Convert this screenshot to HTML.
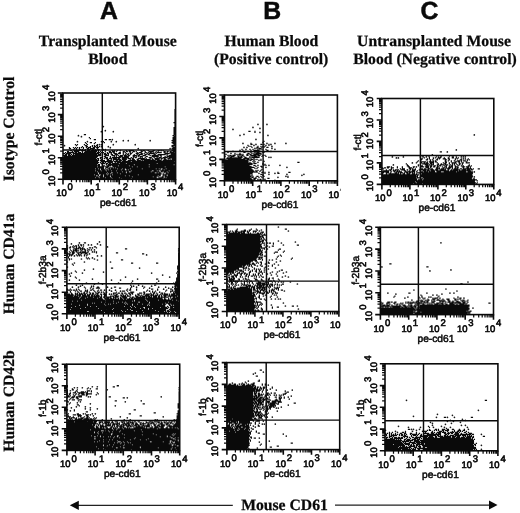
<!DOCTYPE html>
<html lang="en"><head><meta charset="utf-8"><title>Figure</title>
<style>
html,body{margin:0;padding:0;background:#fff}
svg{display:block}
text{fill:#0a0a0a;text-rendering:geometricPrecision}
.hd{font:bold 24.8px "Liberation Sans",Arial,Helvetica,sans-serif;text-anchor:middle;stroke:#0a0a0a;stroke-width:.5}
.ct{font:bold 15.7px "Liberation Serif","Times New Roman",Times,serif;text-anchor:middle;stroke:#0a0a0a;stroke-width:.25}
.ax{font:10.2px "Liberation Sans",Arial,Helvetica,sans-serif;stroke:#0a0a0a;stroke-width:.5}
.tk{font:9.45px "Liberation Sans",Arial,Helvetica,sans-serif;stroke:#0a0a0a;stroke-width:.62}
.sp{font-size:9.5px}
.fr{fill:none;stroke:#0a0a0a;stroke-width:1.6}
.q{fill:none;stroke:#0a0a0a;stroke-width:1.45}
.tM{fill:none;stroke:#0a0a0a;stroke-width:1.6}
.tm{fill:none;stroke:#0a0a0a;stroke-width:1.25}
.d{fill:none;stroke:#0a0a0a;stroke-width:1.25;stroke-linecap:square}
.d2{fill:none;stroke:#1a1a1a;stroke-width:1.7;stroke-linecap:round}
.ar{fill:none;stroke:#222;stroke-width:1.1}
</style></head><body>
<svg width="520" height="513" viewBox="0 0 520 513">
<rect width="520" height="513" fill="#fff"/>
<text class="hd" x="109" y="18.5">A</text>
<text class="hd" x="272.2" y="18.5">B</text>
<text class="hd" x="429.4" y="18.5">C</text>
<text class="ct" x="107.8" y="45.8">Transplanted Mouse</text>
<text class="ct" x="107.8" y="64.4">Blood</text>
<text class="ct" x="271.4" y="45.8">Human Blood</text>
<text class="ct" x="271.2" y="64.4">(Positive control)</text>
<text class="ct" x="434" y="45.8">Untransplanted Mouse</text>
<text class="ct" x="435" y="64.4">Blood (Negative control)</text>
<text class="ct" transform="translate(14.3 129) rotate(-90)">Isotype Control</text>
<text class="ct" transform="translate(14.3 264) rotate(-90)">Human CD41a</text>
<text class="ct" transform="translate(14.3 401) rotate(-90)">Human CD42b</text>
<g id="pA1">
<g transform="translate(63 93) scale(0.9965 1.0035) translate(0.5 0.5)"><path class="d" d="M0 85h48M50 85h7M59 85h8M69 85h30M101 85h11M0 84h31M33 84h2M37 84h4M43 84h4M49 84h6M57 84h36M96 84h4M102 84h0M104 84h8M0 83h34M36 83h3M41 83h5M48 83h20M70 83h19M91 83h2M95 83h0M99 83h1M102 83h10M0 82h32M35 82h0M37 82h2M41 82h5M48 82h13M63 82h2M67 82h27M96 82h1M100 82h0M102 82h1M105 82h7M0 81h30M32 81h3M38 81h1M41 81h2M45 81h3M50 81h24M76 81h21M100 81h3M105 81h7M0 80h34M36 80h6M44 80h0M46 80h0M48 80h8M58 80h40M100 80h0M103 80h9M0 79h34M36 79h7M45 79h2M50 79h3M55 79h7M64 79h27M94 79h0M96 79h1M101 79h0M103 79h1M106 79h6M0 78h33M35 78h23M60 78h2M64 78h1M68 78h19M89 78h7M98 78h1M101 78h2M105 78h7M0 77h31M33 77h4M40 77h2M44 77h3M49 77h3M54 77h13M69 77h19M91 77h2M95 77h0M98 77h7M107 77h5M0 76h36M38 76h3M43 76h1M46 76h11M59 76h2M64 76h0M66 76h31M99 76h1M102 76h10M0 75h31M33 75h1M36 75h0M38 75h2M42 75h0M45 75h1M48 75h5M55 75h3M60 75h1M63 75h3M68 75h10M80 75h12M94 75h1M97 75h0M100 75h2M104 75h8M0 74h40M43 74h1M46 74h3M51 74h0M53 74h59M0 73h33M35 73h5M42 73h3M50 73h18M70 73h3M75 73h10M87 73h14M103 73h9M0 72h36M40 72h1M44 72h3M49 72h5M56 72h9M67 72h45M0 71h33M35 71h1M43 71h0M45 71h25M72 71h13M87 71h23M112 71h0M0 70h34M38 70h3M43 70h1M46 70h1M49 70h6M57 70h5M64 70h29M95 70h17M0 69h35M37 69h0M40 69h0M42 69h0M45 69h4M52 69h0M54 69h58M0 68h34M38 68h11M51 68h6M59 68h8M69 68h42M0 67h35M37 67h4M44 67h4M50 67h0M53 67h1M56 67h2M60 67h2M65 67h7M74 67h3M79 67h0M81 67h11M94 67h4M100 67h12M0 66h33M35 66h0M38 66h0M44 66h1M48 66h0M50 66h7M59 66h4M67 66h0M69 66h2M74 66h1M78 66h9M89 66h1M92 66h4M98 66h0M101 66h2M105 66h0M107 66h0M109 66h3M0 65h32M34 65h1M37 65h0M39 65h0M41 65h0M43 65h1M46 65h2M50 65h3M55 65h1M59 65h4M65 65h2M69 65h1M75 65h6M83 65h0M87 65h0M89 65h0M92 65h4M98 65h1M101 65h1M105 65h2M109 65h3M0 64h33M37 64h1M42 64h2M47 64h0M49 64h8M59 64h6M68 64h0M70 64h0M72 64h1M77 64h0M79 64h0M82 64h0M86 64h2M91 64h0M94 64h0M96 64h2M100 64h4M106 64h6M1 63h33M41 63h1M47 63h0M51 63h0M53 63h0M56 63h3M61 63h4M70 63h1M73 63h0M75 63h0M77 63h2M83 63h1M89 63h6M98 63h0M102 63h0M104 63h8M0 62h3M5 62h2M9 62h28M39 62h0M42 62h3M49 62h2M53 62h0M55 62h0M57 62h2M61 62h2M65 62h1M70 62h3M75 62h1M80 62h2M87 62h0M89 62h6M97 62h1M104 62h0M106 62h6M2 61h1M5 61h1M8 61h0M10 61h0M12 61h21M35 61h2M39 61h0M41 61h2M45 61h0M48 61h1M52 61h2M60 61h0M62 61h0M64 61h1M67 61h0M71 61h0M74 61h0M76 61h3M82 61h1M85 61h1M91 61h1M95 61h7M104 61h0M108 61h4M0 60h1M3 60h4M10 60h25M37 60h0M41 60h1M44 60h1M48 60h0M51 60h2M55 60h2M60 60h0M63 60h0M65 60h0M67 60h1M73 60h2M78 60h1M81 60h0M84 60h0M86 60h5M93 60h0M102 60h4M108 60h4M2 59h0M4 59h6M12 59h1M15 59h2M19 59h0M21 59h11M34 59h2M38 59h0M40 59h0M44 59h0M46 59h2M50 59h1M56 59h1M60 59h0M62 59h0M67 59h0M69 59h0M74 59h0M76 59h2M82 59h1M85 59h0M87 59h1M90 59h0M92 59h0M94 59h4M101 59h1M104 59h0M107 59h4M4 58h1M9 58h0M11 58h4M19 58h0M22 58h11M35 58h0M37 58h0M46 58h1M49 58h2M53 58h0M60 58h1M63 58h1M66 58h1M70 58h1M73 58h0M78 58h1M82 58h0M86 58h4M93 58h0M95 58h0M101 58h1M104 58h1M107 58h1M110 58h2M7 57h1M11 57h5M18 57h4M24 57h2M28 57h5M35 57h0M49 57h0M51 57h0M54 57h0M63 57h0M66 57h4M78 57h0M80 57h1M85 57h0M90 57h1M95 57h1M100 57h0M109 57h3M10 56h0M13 56h0M16 56h1M19 56h0M22 56h0M24 56h3M29 56h1M32 56h0M34 56h2M110 56h2M6 55h1M11 55h0M13 55h0M16 55h0M20 55h0M24 55h1M27 55h4M34 55h0M109 55h3M6 54h0M10 54h0M12 54h0M14 54h0M16 54h0M18 54h0M20 54h0M23 54h0M25 54h2M30 54h1M33 54h2M110 54h2M19 53h0M23 53h1M27 53h0M29 53h0M31 53h1M34 53h0M36 53h0M109 53h1M112 53h0M13 52h0M22 52h1M29 52h0M31 52h0M33 52h1M109 52h3M12 51h0M14 51h0M21 51h0M24 51h0M34 51h0M111 51h1M23 50h0M31 50h0M110 50h2M22 49h0M27 49h1M32 49h0M39 49h0M41 49h0M109 49h3M38 48h0M40 48h0M110 48h2M109 47h3M31 46h1M42 46h1M46 46h1M110 46h2M27 45h0M110 45h2M26 44h0M110 44h2M111 43h1M110 42h1M21 41h1M111 41h1M111 40h1M111 39h1M111 38h1M111 37h1M111 36h1M111 35h1M111 34h1M112 33h0M112 32h0M112 31h0M112 30h0M111 29h1M112 28h0M112 27h0M112 26h0M112 25h0M112 24h0M112 23h0M112 22h0M112 21h0M112 20h0M112 19h0M112 18h0M112 17h0M112 16h0"/><path class="d2" d="M42 58h0M57 57h0M98 57h0M40 56h0M42 56h0M75 55h0M107 55h0M47 54h0M38 53h0M45 53h0M1 52h0M36 51h0M38 51h0M50 51h0M72 51h0M14 48h0M24 48h0M48 48h0M53 48h0M60 47h0M65 47h0M87 47h0M49 46h0M18 43h0M15 42h0M38 38h0M50 38h0M42 37h0M40 33h0"/></g>
<rect class="fr" x="63" y="93" width="112.6" height="86.3"/>
<path class="q" d="M102.3 93V179.3M63 150H175.6"/>
<path class="tM" d="M63 179.3v5.2M63 179.3h-5.2M91.2 179.3v5.2M63 157.7h-5.2M119.3 179.3v5.2M63 136.2h-5.2M147.4 179.3v5.2M63 114.6h-5.2M175.6 179.3v5.2M63 93h-5.2"/><path class="tm" d="M71.5 179.3v2.9M63 172.8h-2.9M76.4 179.3v2.9M63 169h-2.9M79.9 179.3v2.9M63 166.3h-2.9M82.7 179.3v2.9M63 164.2h-2.9M84.9 179.3v2.9M63 162.5h-2.9M86.8 179.3v2.9M63 161.1h-2.9M88.4 179.3v2.9M63 159.8h-2.9M89.9 179.3v2.9M63 158.7h-2.9M99.6 179.3v2.9M63 151.2h-2.9M104.6 179.3v2.9M63 147.4h-2.9M108.1 179.3v2.9M63 144.7h-2.9M110.8 179.3v2.9M63 142.6h-2.9M113.1 179.3v2.9M63 140.9h-2.9M114.9 179.3v2.9M63 139.5h-2.9M116.6 179.3v2.9M63 138.2h-2.9M118 179.3v2.9M63 137.1h-2.9M127.8 179.3v2.9M63 129.7h-2.9M132.7 179.3v2.9M63 125.9h-2.9M136.2 179.3v2.9M63 123.2h-2.9M139 179.3v2.9M63 121.1h-2.9M141.2 179.3v2.9M63 119.4h-2.9M143.1 179.3v2.9M63 117.9h-2.9M144.7 179.3v2.9M63 116.7h-2.9M146.2 179.3v2.9M63 115.6h-2.9M155.9 179.3v2.9M63 108.1h-2.9M160.9 179.3v2.9M63 104.3h-2.9M164.4 179.3v2.9M63 101.6h-2.9M167.1 179.3v2.9M63 99.5h-2.9M169.4 179.3v2.9M63 97.8h-2.9M171.2 179.3v2.9M63 96.3h-2.9M172.9 179.3v2.9M63 95.1h-2.9M174.3 179.3v2.9M63 94h-2.9"/>
<text class="tk" x="56.2" y="196.2">10<tspan class="sp" dx="0.8" dy="-5.8">0</tspan></text>
<text class="tk" transform="translate(54.5 179.3) rotate(-90)" x="-6.9" y="0">10<tspan class="sp" dx="1.2" dy="-5.8">0</tspan></text>
<text class="tk" x="83.9" y="196.2">10<tspan class="sp" dx="0.8" dy="-5.8">1</tspan></text>
<text class="tk" transform="translate(54.5 157.7) rotate(-90)" x="-7.4" y="0">10<tspan class="sp" dx="1.2" dy="-5.8">1</tspan></text>
<text class="tk" x="111.5" y="196.2">10<tspan class="sp" dx="0.8" dy="-5.8">2</tspan></text>
<text class="tk" transform="translate(54.5 136.2) rotate(-90)" x="-7.8" y="0">10<tspan class="sp" dx="1.2" dy="-5.8">2</tspan></text>
<text class="tk" x="139.1" y="196.2">10<tspan class="sp" dx="0.8" dy="-5.8">3</tspan></text>
<text class="tk" transform="translate(54.5 114.6) rotate(-90)" x="-8.2" y="0">10<tspan class="sp" dx="1.2" dy="-5.8">3</tspan></text>
<text class="tk" x="166.8" y="196.2">10<tspan class="sp" dx="0.8" dy="-5.8">4</tspan></text>
<text class="tk" transform="translate(54.5 93) rotate(-90)" x="-8.7" y="0">10<tspan class="sp" dx="1.2" dy="-5.8">4</tspan></text>
<text class="ax" text-anchor="middle" x="118.3" y="206.2">pe-cd61</text>
<text class="ax" text-anchor="middle" transform="translate(41.7 137.2) rotate(-90)">f-ctl</text>
</g>
<g id="pB1">
<g transform="translate(224.5 95) scale(0.9991 0.9977) translate(0.5 0.5)"><path class="d" d="M0 85h25M27 85h2M0 84h27M29 84h1M35 84h1M0 83h26M29 83h2M43 83h1M0 82h25M27 82h1M31 82h0M34 82h0M37 82h0M63 82h0M0 81h26M28 81h0M32 81h1M36 81h0M39 81h0M63 81h0M0 80h25M27 80h0M38 80h0M0 79h25M27 79h0M36 79h1M0 78h27M40 78h0M53 78h1M0 77h28M30 77h0M32 77h0M37 77h1M40 77h0M53 77h0M64 77h1M0 76h29M31 76h1M35 76h0M0 75h28M31 75h0M33 75h0M36 75h0M0 74h27M37 74h0M0 73h26M30 73h0M32 73h0M0 72h29M33 72h0M37 72h0M0 71h26M31 71h0M36 71h1M0 70h24M29 70h1M39 70h0M41 70h0M0 69h27M38 69h0M40 69h0M0 68h27M29 68h2M38 68h0M0 67h23M25 67h0M29 67h0M73 67h1M0 66h23M28 66h0M30 66h0M0 65h23M25 65h1M29 65h0M36 65h0M1 64h0M3 64h17M22 64h2M26 64h2M30 64h0M36 64h0M2 63h14M19 63h5M26 63h0M29 63h0M3 62h0M5 62h2M9 62h0M11 62h0M13 62h4M20 62h1M25 62h0M27 62h7M4 61h0M6 61h3M13 61h1M16 61h1M19 61h0M25 61h0M27 61h0M29 61h3M34 61h0M37 61h0M41 61h0M3 60h0M5 60h1M8 60h2M13 60h0M15 60h0M17 60h1M22 60h1M26 60h5M33 60h2M38 60h0M40 60h0M10 59h0M12 59h0M14 59h2M18 59h0M22 59h1M25 59h1M29 59h5M36 59h0M10 58h0M15 58h0M23 58h1M27 58h0M29 58h0M31 58h5M19 57h1M26 57h0M30 57h0M32 57h2M38 57h1M20 56h3M30 56h1M34 56h2M18 55h0M26 55h0M29 55h5M42 55h1M17 54h0M25 54h0M28 54h0M33 54h0M35 54h0M37 54h0M41 54h0M32 53h0M34 53h2M27 52h0M32 52h1M37 52h0M39 52h0M42 52h1M24 51h0M26 51h0M33 51h0M36 51h0M38 51h0M40 51h0M23 50h0M41 50h0M44 50h0M26 49h1M36 49h1M44 49h0M26 48h0M38 47h0M39 46h0M30 37h0M24 36h1M30 36h0"/><path class="d2" d="M50 85h0M33 84h0M40 84h0M53 82h0M61 81h0M77 80h0M44 79h0M62 79h0M79 79h0M34 78h0M50 78h0M44 77h0M41 72h0M62 72h0M33 70h0M44 70h0M55 70h0M33 67h0M39 66h0M34 65h0M32 64h0M44 62h0M46 62h0M0 61h0M1 59h0M6 58h0M3 57h0M8 56h0M46 56h0M15 55h0M21 54h0M50 54h0M30 53h0M47 53h0M19 52h0M22 52h0M47 51h0M29 50h0M31 49h0M39 49h0M46 49h0M18 48h0M42 48h0M50 48h0M61 48h0M31 44h0M15 40h0M43 40h0M19 39h0M35 37h0M8 34h0M35 33h0M28 32h0M33 29h0M42 29h0"/></g>
<rect class="fr" x="224.5" y="95" width="112.9" height="85.8"/>
<path class="q" d="M263.1 95V180.8M224.5 151.5H337.4"/>
<path class="tM" d="M224.5 180.8v5.2M224.5 180.8h-5.2M252.7 180.8v5.2M224.5 159.4h-5.2M280.9 180.8v5.2M224.5 137.9h-5.2M309.2 180.8v5.2M224.5 116.5h-5.2M337.4 180.8v5.2M224.5 95h-5.2"/><path class="tm" d="M233 180.8v2.9M224.5 174.3h-2.9M238 180.8v2.9M224.5 170.6h-2.9M241.5 180.8v2.9M224.5 167.9h-2.9M244.2 180.8v2.9M224.5 165.8h-2.9M246.5 180.8v2.9M224.5 164.1h-2.9M248.4 180.8v2.9M224.5 162.7h-2.9M250 180.8v2.9M224.5 161.4h-2.9M251.4 180.8v2.9M224.5 160.3h-2.9M261.2 180.8v2.9M224.5 152.9h-2.9M266.2 180.8v2.9M224.5 149.1h-2.9M269.7 180.8v2.9M224.5 146.4h-2.9M272.5 180.8v2.9M224.5 144.4h-2.9M274.7 180.8v2.9M224.5 142.7h-2.9M276.6 180.8v2.9M224.5 141.2h-2.9M278.2 180.8v2.9M224.5 140h-2.9M279.7 180.8v2.9M224.5 138.9h-2.9M289.4 180.8v2.9M224.5 131.4h-2.9M294.4 180.8v2.9M224.5 127.7h-2.9M297.9 180.8v2.9M224.5 125h-2.9M300.7 180.8v2.9M224.5 122.9h-2.9M302.9 180.8v2.9M224.5 121.2h-2.9M304.8 180.8v2.9M224.5 119.8h-2.9M306.4 180.8v2.9M224.5 118.5h-2.9M307.9 180.8v2.9M224.5 117.4h-2.9M317.7 180.8v2.9M224.5 110h-2.9M322.6 180.8v2.9M224.5 106.2h-2.9M326.2 180.8v2.9M224.5 103.5h-2.9M328.9 180.8v2.9M224.5 101.5h-2.9M331.1 180.8v2.9M224.5 99.8h-2.9M333 180.8v2.9M224.5 98.3h-2.9M334.7 180.8v2.9M224.5 97.1h-2.9M336.1 180.8v2.9M224.5 96h-2.9"/>
<text class="tk" x="217.7" y="197.7">10<tspan class="sp" dx="0.8" dy="-5.8">0</tspan></text>
<text class="tk" transform="translate(216 180.8) rotate(-90)" x="-6.9" y="0">10<tspan class="sp" dx="1.2" dy="-5.8">0</tspan></text>
<text class="tk" x="245.4" y="197.7">10<tspan class="sp" dx="0.8" dy="-5.8">1</tspan></text>
<text class="tk" transform="translate(216 159.4) rotate(-90)" x="-7.4" y="0">10<tspan class="sp" dx="1.2" dy="-5.8">1</tspan></text>
<text class="tk" x="273.1" y="197.7">10<tspan class="sp" dx="0.8" dy="-5.8">2</tspan></text>
<text class="tk" transform="translate(216 137.9) rotate(-90)" x="-7.8" y="0">10<tspan class="sp" dx="1.2" dy="-5.8">2</tspan></text>
<text class="tk" x="300.9" y="197.7">10<tspan class="sp" dx="0.8" dy="-5.8">3</tspan></text>
<text class="tk" transform="translate(216 116.5) rotate(-90)" x="-8.2" y="0">10<tspan class="sp" dx="1.2" dy="-5.8">3</tspan></text>
<text class="tk" x="328.6" y="197.7">10<tspan class="sp" dx="0.8" dy="-5.8">4</tspan></text>
<text class="tk" transform="translate(216 95) rotate(-90)" x="-8.7" y="0">10<tspan class="sp" dx="1.2" dy="-5.8">4</tspan></text>
<rect x="340.6" y="182.8" width="8" height="12" fill="#fff"/>
<text class="ax" text-anchor="middle" x="279.9" y="207.7">pe-cd61</text>
<text class="ax" text-anchor="middle" transform="translate(203.2 138.9) rotate(-90)">f-ctl</text>
</g>
<g id="pC1">
<g transform="translate(381.9 98.5) scale(0.9991 0.9988) translate(0.5 0.5)"><path class="d" d="M0 85h30M32 85h7M41 85h51M94 85h0M0 84h33M35 84h2M39 84h54M95 84h0M0 83h32M34 83h58M0 82h92M95 82h0M0 81h34M36 81h3M41 81h53M0 80h34M39 80h1M42 80h47M91 80h1M0 79h33M35 79h2M41 79h48M0 78h35M38 78h52M0 77h33M35 77h0M39 77h51M0 76h36M38 76h51M0 75h0M4 75h0M7 75h9M18 75h0M21 75h1M25 75h2M30 75h2M34 75h0M38 75h0M40 75h50M0 74h1M4 74h2M8 74h0M13 74h1M16 74h0M18 74h2M22 74h0M24 74h1M27 74h1M30 74h0M32 74h0M35 74h2M39 74h51M0 73h6M9 73h0M12 73h0M14 73h5M23 73h9M34 73h0M38 73h2M42 73h3M47 73h5M55 73h3M62 73h11M75 73h8M86 73h4M1 72h5M8 72h0M11 72h2M15 72h0M17 72h0M22 72h1M27 72h0M30 72h2M35 72h0M38 72h0M41 72h2M45 72h2M49 72h3M54 72h12M68 72h7M77 72h11M4 71h0M7 71h2M11 71h0M13 71h3M19 71h3M28 71h0M30 71h3M37 71h0M39 71h7M48 71h3M53 71h2M58 71h5M66 71h0M69 71h0M71 71h6M80 71h3M85 71h2M89 71h1M0 70h1M9 70h0M18 70h0M20 70h2M27 70h1M30 70h0M33 70h0M38 70h2M42 70h1M46 70h1M49 70h1M54 70h3M59 70h2M63 70h0M65 70h2M70 70h0M72 70h3M78 70h1M81 70h8M91 70h0M96 70h1M0 69h0M2 69h1M5 69h1M9 69h2M15 69h0M20 69h0M27 69h2M31 69h0M38 69h0M44 69h2M48 69h0M54 69h1M57 69h0M61 69h1M64 69h0M66 69h2M70 69h0M73 69h0M75 69h1M81 69h0M85 69h1M88 69h0M5 68h2M9 68h0M15 68h0M20 68h0M26 68h1M31 68h1M39 68h2M43 68h3M48 68h1M51 68h1M55 68h1M60 68h0M63 68h1M67 68h3M73 68h2M80 68h2M84 68h2M88 68h0M25 67h1M36 67h0M39 67h1M44 67h2M48 67h1M52 67h1M55 67h0M57 67h1M62 67h0M64 67h0M67 67h0M69 67h1M73 67h0M76 67h0M79 67h0M81 67h0M86 67h1M89 67h0M25 66h0M36 66h0M38 66h0M43 66h2M47 66h0M49 66h2M55 66h1M58 66h3M63 66h2M68 66h0M70 66h0M72 66h0M75 66h0M77 66h0M80 66h0M87 66h0M24 65h0M40 65h6M48 65h1M51 65h0M56 65h0M59 65h0M62 65h1M67 65h0M70 65h0M72 65h0M74 65h0M77 65h1M80 65h0M34 64h0M39 64h0M42 64h0M44 64h1M48 64h3M55 64h0M61 64h0M63 64h1M67 64h0M70 64h3M77 64h0M80 64h1M84 64h3M35 63h0M39 63h4M45 63h0M47 63h4M53 63h1M63 63h1M69 63h0M73 63h1M76 63h1M79 63h0M84 63h0M36 62h0M48 62h0M51 62h0M53 62h0M63 62h0M66 62h0M69 62h0M72 62h0M75 62h2M79 62h0M81 62h2M85 62h0M39 61h0M44 61h1M48 61h0M50 61h0M54 61h1M63 61h1M67 61h0M73 61h0M78 61h1M85 61h0M87 61h0M39 60h1M45 60h0M47 60h0M51 60h0M55 60h0M57 60h0M61 60h2M66 60h1M73 60h0M75 60h0M79 60h0M86 60h0M42 59h0M47 59h0M51 59h0M53 59h0M56 59h2M62 59h0M66 59h0M70 59h1M74 59h0M76 59h0M40 58h1M47 58h0M54 58h0M56 58h0M58 58h1M67 58h0M70 58h1M74 58h0M46 57h0M58 53h1"/><path class="d2" d="M92 78h0M92 73h0M25 71h0M34 68h0M11 66h0M30 64h0M81 60h0M83 60h0M14 59h0M16 59h0M10 58h0M21 58h0M38 58h0M44 58h0M79 58h0M81 58h0M83 58h0M50 56h0M65 53h0M74 51h0M92 36h0"/></g>
<rect class="fr" x="381.9" y="98.5" width="111.9" height="85.9"/>
<path class="q" d="M420.4 98.5V184.4M381.9 155.4H493.8"/>
<path class="tM" d="M381.9 184.4v5.2M381.9 184.4h-5.2M409.9 184.4v5.2M381.9 162.9h-5.2M437.9 184.4v5.2M381.9 141.4h-5.2M465.8 184.4v5.2M381.9 120h-5.2M493.8 184.4v5.2M381.9 98.5h-5.2"/><path class="tm" d="M390.3 184.4v2.9M381.9 177.9h-2.9M395.2 184.4v2.9M381.9 174.2h-2.9M398.7 184.4v2.9M381.9 171.5h-2.9M401.5 184.4v2.9M381.9 169.4h-2.9M403.7 184.4v2.9M381.9 167.7h-2.9M405.5 184.4v2.9M381.9 166.3h-2.9M407.2 184.4v2.9M381.9 165h-2.9M408.6 184.4v2.9M381.9 163.9h-2.9M418.3 184.4v2.9M381.9 156.5h-2.9M423.2 184.4v2.9M381.9 152.7h-2.9M426.7 184.4v2.9M381.9 150h-2.9M429.4 184.4v2.9M381.9 147.9h-2.9M431.6 184.4v2.9M381.9 146.2h-2.9M433.5 184.4v2.9M381.9 144.8h-2.9M435.1 184.4v2.9M381.9 143.5h-2.9M436.6 184.4v2.9M381.9 142.4h-2.9M446.3 184.4v2.9M381.9 135h-2.9M451.2 184.4v2.9M381.9 131.2h-2.9M454.7 184.4v2.9M381.9 128.5h-2.9M457.4 184.4v2.9M381.9 126.4h-2.9M459.6 184.4v2.9M381.9 124.7h-2.9M461.5 184.4v2.9M381.9 123.3h-2.9M463.1 184.4v2.9M381.9 122.1h-2.9M464.5 184.4v2.9M381.9 121h-2.9M474.2 184.4v2.9M381.9 113.5h-2.9M479.2 184.4v2.9M381.9 109.7h-2.9M482.7 184.4v2.9M381.9 107h-2.9M485.4 184.4v2.9M381.9 105h-2.9M487.6 184.4v2.9M381.9 103.3h-2.9M489.5 184.4v2.9M381.9 101.8h-2.9M491.1 184.4v2.9M381.9 100.6h-2.9M492.5 184.4v2.9M381.9 99.5h-2.9"/>
<text class="tk" x="375.1" y="201.3">10<tspan class="sp" dx="0.8" dy="-5.8">0</tspan></text>
<text class="tk" transform="translate(373.4 184.4) rotate(-90)" x="-6.9" y="0">10<tspan class="sp" dx="1.2" dy="-5.8">0</tspan></text>
<text class="tk" x="402.6" y="201.3">10<tspan class="sp" dx="0.8" dy="-5.8">1</tspan></text>
<text class="tk" transform="translate(373.4 162.9) rotate(-90)" x="-7.4" y="0">10<tspan class="sp" dx="1.2" dy="-5.8">1</tspan></text>
<text class="tk" x="430.1" y="201.3">10<tspan class="sp" dx="0.8" dy="-5.8">2</tspan></text>
<text class="tk" transform="translate(373.4 141.4) rotate(-90)" x="-7.8" y="0">10<tspan class="sp" dx="1.2" dy="-5.8">2</tspan></text>
<text class="tk" x="457.5" y="201.3">10<tspan class="sp" dx="0.8" dy="-5.8">3</tspan></text>
<text class="tk" transform="translate(373.4 120) rotate(-90)" x="-8.2" y="0">10<tspan class="sp" dx="1.2" dy="-5.8">3</tspan></text>
<text class="tk" x="485" y="201.3">10<tspan class="sp" dx="0.8" dy="-5.8">4</tspan></text>
<text class="tk" transform="translate(373.4 98.5) rotate(-90)" x="-8.7" y="0">10<tspan class="sp" dx="1.2" dy="-5.8">4</tspan></text>
<text class="ax" text-anchor="middle" x="436.9" y="211.3">pe-cd61</text>
<text class="ax" text-anchor="middle" transform="translate(360.6 142.4) rotate(-90)">f-ctl</text>
</g>
<g id="pA2">
<g transform="translate(66.9 227.3) scale(1.0027 1.0058) translate(0.5 0.5)"><path class="d" d="M0 85h48M50 85h41M93 85h2M97 85h3M104 85h3M109 85h2M0 84h36M38 84h7M47 84h28M77 84h22M101 84h0M103 84h4M109 84h2M0 83h19M22 83h32M56 83h1M59 83h9M70 83h20M92 83h4M98 83h0M100 83h2M104 83h2M108 83h3M0 82h33M35 82h18M55 82h8M66 82h8M76 82h11M89 82h9M100 82h1M103 82h8M0 81h2M4 81h34M40 81h4M46 81h13M61 81h1M64 81h16M82 81h16M102 81h9M0 80h12M14 80h16M32 80h13M47 80h25M74 80h2M78 80h2M82 80h2M86 80h14M103 80h8M0 79h3M5 79h12M19 79h44M65 79h2M69 79h6M78 79h14M94 79h5M101 79h0M103 79h2M107 79h4M0 78h7M9 78h13M24 78h4M30 78h26M58 78h4M64 78h2M68 78h29M100 78h0M103 78h8M0 77h11M13 77h6M21 77h16M40 77h24M66 77h13M81 77h0M83 77h14M102 77h1M105 77h0M107 77h4M0 76h3M5 76h14M21 76h15M38 76h2M42 76h0M44 76h13M59 76h0M61 76h3M66 76h3M71 76h3M76 76h4M82 76h12M96 76h2M101 76h1M104 76h7M0 75h24M26 75h0M28 75h17M47 75h1M50 75h6M58 75h0M60 75h21M83 75h14M99 75h12M0 74h33M35 74h2M39 74h11M52 74h2M56 74h1M59 74h11M73 74h8M83 74h17M102 74h9M0 73h4M6 73h3M11 73h34M47 73h17M66 73h0M68 73h11M81 73h29M0 72h13M15 72h22M39 72h27M68 72h10M80 72h10M92 72h12M106 72h2M110 72h1M0 71h35M38 71h0M40 71h11M53 71h2M57 71h1M60 71h17M79 71h16M97 71h1M101 71h0M104 71h7M0 70h11M13 70h4M19 70h10M31 70h3M37 70h1M40 70h1M43 70h1M46 70h0M48 70h0M51 70h0M53 70h1M56 70h3M62 70h0M64 70h1M67 70h27M97 70h0M101 70h0M103 70h0M105 70h6M0 69h12M14 69h5M21 69h4M27 69h4M33 69h1M36 69h1M40 69h3M46 69h4M53 69h0M55 69h4M63 69h0M65 69h1M69 69h8M79 69h0M81 69h3M86 69h3M91 69h1M94 69h6M103 69h0M106 69h1M109 69h2M0 68h5M7 68h3M12 68h1M15 68h7M24 68h8M34 68h0M37 68h1M43 68h3M48 68h3M54 68h4M60 68h2M68 68h2M73 68h0M75 68h7M84 68h0M86 68h3M91 68h1M94 68h0M97 68h1M101 68h8M111 68h0M0 67h6M8 67h0M10 67h3M15 67h3M20 67h2M24 67h1M27 67h0M29 67h2M34 67h0M37 67h1M47 67h2M53 67h1M56 67h0M58 67h0M60 67h0M63 67h0M68 67h0M71 67h1M74 67h0M78 67h3M83 67h3M88 67h2M92 67h0M94 67h0M96 67h4M102 67h0M104 67h7M0 66h2M4 66h1M8 66h2M12 66h3M17 66h1M20 66h0M22 66h1M25 66h1M28 66h0M30 66h0M33 66h1M36 66h2M46 66h0M49 66h1M55 66h0M59 66h0M62 66h1M65 66h0M70 66h1M76 66h1M79 66h3M84 66h0M86 66h0M90 66h0M93 66h0M95 66h0M97 66h3M102 66h0M104 66h3M109 66h2M4 65h0M8 65h0M10 65h0M12 65h0M14 65h0M16 65h1M19 65h0M23 65h0M25 65h1M29 65h2M37 65h0M46 65h2M51 65h1M54 65h1M57 65h1M61 65h1M64 65h1M72 65h2M77 65h0M83 65h0M86 65h1M89 65h0M94 65h1M97 65h0M106 65h5M3 64h0M11 64h0M17 64h0M20 64h0M22 64h0M28 64h0M31 64h1M36 64h0M49 64h0M63 64h3M76 64h1M85 64h0M87 64h0M103 64h0M106 64h0M108 64h3M3 63h0M8 63h0M10 63h0M13 63h1M18 63h2M27 63h0M30 63h0M55 63h2M60 63h0M79 63h0M85 63h0M88 63h0M98 63h0M103 63h2M107 63h4M0 62h2M4 62h0M6 62h1M9 62h0M12 62h0M18 62h0M20 62h0M23 62h1M26 62h0M31 62h0M33 62h1M59 62h0M62 62h1M69 62h0M80 62h0M90 62h0M99 62h0M105 62h0M108 62h3M0 61h0M3 61h0M9 61h0M11 61h0M25 61h0M60 61h0M63 61h0M69 61h0M84 61h1M90 61h0M103 61h1M107 61h4M18 60h0M23 60h0M26 60h0M29 60h3M52 60h1M63 60h0M76 60h0M107 60h4M17 59h0M24 59h0M30 59h1M47 59h1M64 59h0M77 59h0M108 59h0M110 59h1M24 58h0M64 58h0M107 58h4M63 57h0M87 57h1M108 57h3M107 56h4M106 55h0M108 55h3M108 54h3M109 53h2M109 52h2M89 51h1M109 51h2M9 50h0M109 50h2M8 49h0M110 49h1M110 48h1M110 47h1M110 46h1M109 45h0M111 45h0M9 44h0M110 44h1M8 43h0M110 43h1M111 42h0M110 41h1M44 40h1M110 40h1M110 39h1M110 38h1M6 37h0M111 37h0M5 36h0M111 36h0M64 35h1M89 35h1M111 35h0M111 34h0M111 33h0M2 32h0M54 32h1M111 32h0M2 31h0M20 31h0M22 31h0M111 31h0M1 30h0M19 30h0M21 30h0M111 30h0M1 29h0M111 29h0M0 28h0M2 28h0M4 28h0M10 28h0M12 28h0M14 28h0M17 28h0M19 28h0M111 28h0M0 27h0M2 27h3M9 27h0M11 27h2M17 27h0M20 27h0M111 27h0M0 26h2M5 26h1M11 26h0M14 26h0M18 26h1M75 26h1M111 26h0M0 25h0M3 25h0M5 25h2M10 25h10M29 25h0M49 25h1M111 25h0M2 24h0M5 24h1M9 24h0M13 24h0M15 24h3M21 24h0M29 24h0M4 23h0M6 23h5M14 23h0M18 23h0M20 23h0M0 22h0M3 22h0M6 22h0M8 22h1M13 22h0M15 22h0M17 22h1M21 22h1M0 21h0M7 21h4M13 21h4M20 21h0M58 21h1M0 20h0M2 20h1M6 20h0M9 20h0M11 20h2M15 20h0M22 20h1M29 20h0M3 19h0M5 19h0M7 19h0M9 19h0M12 19h0M16 19h0M27 19h1M6 18h0M8 18h1M11 18h0M14 18h0M11 17h0M13 17h1M17 15h1"/><path class="d2" d="M42 66h0M44 66h0M0 64h0M34 64h0M39 64h0M92 64h0M44 63h0M53 63h0M82 63h0M37 62h0M42 62h0M48 62h0M96 61h0M44 60h0M82 60h0M101 60h0M5 59h0M11 59h0M40 59h0M69 59h0M91 59h0M98 59h0M105 59h0M13 58h0M26 58h0M66 58h0M75 58h0M84 58h0M9 57h0M15 57h0M71 57h0M27 56h0M35 56h0M19 55h0M31 55h0M51 55h0M64 55h0M89 55h0M65 53h0M91 53h0M2 52h0M12 52h0M44 52h0M53 52h0M25 51h0M70 51h0M58 49h0M102 49h0M3 48h0M95 47h0M2 46h0M4 45h0M15 45h0M84 45h0M36 44h0M17 42h0M26 41h0M72 40h0M0 39h0M7 35h0M0 34h0M17 34h0M43 34h0M30 32h0M4 31h0M14 31h0M27 31h0M25 30h0M7 28h0M30 28h0M34 28h0M79 27h0M22 26h0M25 24h0M27 24h0M111 23h0M24 22h0M27 22h0M111 21h0M25 20h0M40 19h0M0 18h0M16 17h0M21 17h0M24 17h0M33 17h0M4 16h0M30 16h0M12 15h0M32 14h0"/></g>
<rect class="fr" x="66.9" y="227.3" width="112.3" height="86.5"/>
<path class="q" d="M106.2 227.3V313.8M66.9 283.7H179.2"/>
<path class="tM" d="M66.9 313.8v5.2M66.9 313.8h-5.2M95 313.8v5.2M66.9 292.2h-5.2M123 313.8v5.2M66.9 270.6h-5.2M151.1 313.8v5.2M66.9 248.9h-5.2M179.2 313.8v5.2M66.9 227.3h-5.2"/><path class="tm" d="M75.4 313.8v2.9M66.9 307.3h-2.9M80.3 313.8v2.9M66.9 303.5h-2.9M83.8 313.8v2.9M66.9 300.8h-2.9M86.5 313.8v2.9M66.9 298.7h-2.9M88.7 313.8v2.9M66.9 297h-2.9M90.6 313.8v2.9M66.9 295.5h-2.9M92.3 313.8v2.9M66.9 294.3h-2.9M93.7 313.8v2.9M66.9 293.2h-2.9M103.4 313.8v2.9M66.9 285.7h-2.9M108.4 313.8v2.9M66.9 281.9h-2.9M111.9 313.8v2.9M66.9 279.2h-2.9M114.6 313.8v2.9M66.9 277.1h-2.9M116.8 313.8v2.9M66.9 275.3h-2.9M118.7 313.8v2.9M66.9 273.9h-2.9M120.3 313.8v2.9M66.9 272.6h-2.9M121.8 313.8v2.9M66.9 271.5h-2.9M131.5 313.8v2.9M66.9 264h-2.9M136.4 313.8v2.9M66.9 260.2h-2.9M140 313.8v2.9M66.9 257.5h-2.9M142.7 313.8v2.9M66.9 255.4h-2.9M144.9 313.8v2.9M66.9 253.7h-2.9M146.8 313.8v2.9M66.9 252.3h-2.9M148.4 313.8v2.9M66.9 251h-2.9M149.8 313.8v2.9M66.9 249.9h-2.9M159.6 313.8v2.9M66.9 242.4h-2.9M164.5 313.8v2.9M66.9 238.6h-2.9M168 313.8v2.9M66.9 235.9h-2.9M170.7 313.8v2.9M66.9 233.8h-2.9M173 313.8v2.9M66.9 232.1h-2.9M174.9 313.8v2.9M66.9 230.6h-2.9M176.5 313.8v2.9M66.9 229.4h-2.9M177.9 313.8v2.9M66.9 228.3h-2.9"/>
<text class="tk" x="60.1" y="330.7">10<tspan class="sp" dx="0.8" dy="-5.8">0</tspan></text>
<text class="tk" transform="translate(58.4 313.8) rotate(-90)" x="-6.9" y="0">10<tspan class="sp" dx="1.2" dy="-5.8">0</tspan></text>
<text class="tk" x="87.7" y="330.7">10<tspan class="sp" dx="0.8" dy="-5.8">1</tspan></text>
<text class="tk" transform="translate(58.4 292.2) rotate(-90)" x="-7.4" y="0">10<tspan class="sp" dx="1.2" dy="-5.8">1</tspan></text>
<text class="tk" x="115.2" y="330.7">10<tspan class="sp" dx="0.8" dy="-5.8">2</tspan></text>
<text class="tk" transform="translate(58.4 270.6) rotate(-90)" x="-7.8" y="0">10<tspan class="sp" dx="1.2" dy="-5.8">2</tspan></text>
<text class="tk" x="142.8" y="330.7">10<tspan class="sp" dx="0.8" dy="-5.8">3</tspan></text>
<text class="tk" transform="translate(58.4 248.9) rotate(-90)" x="-8.2" y="0">10<tspan class="sp" dx="1.2" dy="-5.8">3</tspan></text>
<text class="tk" x="170.4" y="330.7">10<tspan class="sp" dx="0.8" dy="-5.8">4</tspan></text>
<text class="tk" transform="translate(58.4 227.3) rotate(-90)" x="-8.7" y="0">10<tspan class="sp" dx="1.2" dy="-5.8">4</tspan></text>
<text class="ax" text-anchor="middle" x="122" y="340.7">pe-cd61</text>
<text class="ax" text-anchor="middle" transform="translate(45.6 269.9) rotate(-90)">f-2b3a</text>
</g>
<g id="pB2">
<g transform="translate(226.9 224.5) scale(1.0000 1.0000) translate(0.5 0.5)"><path class="d" d="M0 86h26M28 86h1M31 86h1M34 86h0M0 85h28M30 85h1M35 85h0M0 84h26M34 84h1M0 83h27M29 83h1M34 83h0M45 83h0M0 82h28M31 82h0M45 82h0M50 82h1M0 81h27M29 81h0M31 81h0M65 81h1M0 80h28M30 80h0M32 80h0M34 80h0M0 79h26M30 79h0M33 79h0M35 79h0M0 78h26M28 78h0M30 78h0M34 78h0M0 77h27M29 77h4M0 76h27M29 76h0M0 75h26M38 75h0M0 74h27M29 74h0M33 74h1M37 74h0M0 73h26M28 73h1M32 73h0M0 72h26M31 72h1M43 72h0M0 71h28M32 71h0M44 71h0M0 70h27M32 70h0M38 70h1M0 69h24M26 69h1M29 69h0M35 69h1M45 69h0M0 68h26M30 68h0M32 68h5M40 68h1M45 68h1M48 68h2M0 67h24M26 67h2M30 67h3M37 67h0M39 67h1M42 67h0M44 67h0M48 67h0M0 66h24M29 66h2M33 66h0M36 66h0M38 66h1M42 66h0M44 66h0M46 66h1M1 65h23M26 65h2M30 65h0M33 65h4M42 65h0M44 65h2M51 65h0M54 65h1M0 64h2M4 64h1M7 64h17M26 64h1M30 64h0M32 64h0M34 64h1M37 64h2M45 64h0M47 64h0M49 64h0M51 64h0M3 63h1M6 63h2M10 63h12M24 63h0M26 63h1M29 63h4M35 63h2M39 63h0M42 63h0M48 63h3M0 62h2M4 62h0M6 62h0M13 62h7M22 62h0M24 62h3M30 62h8M41 62h0M43 62h0M47 62h0M50 62h0M52 62h0M0 61h0M2 61h0M7 61h1M19 61h4M25 61h0M27 61h0M29 61h1M32 61h2M36 61h0M39 61h1M42 61h1M45 61h0M2 60h0M5 60h0M9 60h0M14 60h0M16 60h3M21 60h2M28 60h0M30 60h7M39 60h1M42 60h0M44 60h1M47 60h0M50 60h0M54 60h0M1 59h0M4 59h0M6 59h0M8 59h0M15 59h0M17 59h0M20 59h0M26 59h0M30 59h3M35 59h6M43 59h2M48 59h0M50 59h0M55 59h1M0 58h0M4 58h1M9 58h0M14 58h0M17 58h0M22 58h0M25 58h0M29 58h8M39 58h0M41 58h0M2 57h0M4 57h1M8 57h0M10 57h0M17 57h0M20 57h0M22 57h0M25 57h0M31 57h2M38 57h0M40 57h1M45 57h0M48 57h0M3 56h1M6 56h5M17 56h0M19 56h0M23 56h1M31 56h0M36 56h0M42 56h2M47 56h0M0 55h0M2 55h4M12 55h0M20 55h0M22 55h0M28 55h2M34 55h1M41 55h0M46 55h0M52 55h0M0 54h0M2 54h5M11 54h1M18 54h1M21 54h0M28 54h1M34 54h0M41 54h1M51 54h0M2 53h0M4 53h0M6 53h1M18 53h0M27 53h0M42 53h0M45 53h1M1 52h1M5 52h1M9 52h0M13 52h0M21 52h0M29 52h0M35 52h1M4 51h2M8 51h1M13 51h0M18 51h1M21 51h0M24 51h1M27 51h0M29 51h0M34 51h0M1 50h1M7 50h3M14 50h0M19 50h0M22 50h0M26 50h0M28 50h0M31 50h0M33 50h0M0 49h0M3 49h1M7 49h0M10 49h0M13 49h1M17 49h0M19 49h1M22 49h0M26 49h0M28 49h0M31 49h0M35 49h0M0 48h1M3 48h0M5 48h1M10 48h2M14 48h1M17 48h1M22 48h0M31 48h1M35 48h0M0 47h6M8 47h0M12 47h0M16 47h0M22 47h1M29 47h0M33 47h1M0 46h6M9 46h1M13 46h3M23 46h0M25 46h0M28 46h1M32 46h0M34 46h0M0 45h8M11 45h3M21 45h0M25 45h0M29 45h0M32 45h0M39 45h0M54 45h1M0 44h11M16 44h0M22 44h0M27 44h0M29 44h0M31 44h0M33 44h0M39 44h0M0 43h11M16 43h3M21 43h0M27 43h0M37 43h0M0 42h16M19 42h0M25 42h0M38 42h0M0 41h14M16 41h1M21 41h1M24 41h0M34 41h1M45 41h0M0 40h18M20 40h0M22 40h0M24 40h0M27 40h1M33 40h0M45 40h0M0 39h23M25 39h2M34 39h0M0 38h22M25 38h1M29 38h0M31 38h0M34 38h0M41 38h1M0 37h23M30 37h0M33 37h1M41 37h0M0 36h25M28 36h1M0 35h29M35 35h0M0 34h28M31 34h2M35 34h0M64 34h0M0 33h29M32 33h0M34 33h0M65 33h0M0 32h35M50 32h0M0 31h30M37 31h1M51 31h0M54 31h0M0 30h31M33 30h2M53 30h0M0 29h33M35 29h0M0 28h31M33 28h1M47 28h0M0 27h32M34 27h1M48 27h2M56 27h0M0 26h34M57 26h0M0 25h33M35 25h0M51 25h0M0 24h33M37 24h0M52 24h1M0 23h32M34 23h3M0 22h34M38 22h0M0 21h34M45 21h1M0 20h33M70 20h1M0 19h34M46 19h0M0 18h32M35 18h2M42 18h1M46 18h0M0 17h33M35 17h0M0 16h36M0 15h32M35 15h1M38 15h0M0 14h34M37 14h0M0 13h32M34 13h0M36 13h0M0 12h33M35 12h1M0 11h35M0 10h32M35 10h3M0 9h34M37 9h0M0 8h0M2 8h10M14 8h3M21 8h0M23 8h0M30 8h1M33 8h0M35 8h0M0 7h2M6 7h0M8 7h1M11 7h3M16 7h1M20 7h1M26 7h0M28 7h0M34 7h2M3 6h0M5 6h0M8 6h2M14 6h4M20 6h0M22 6h0M26 6h3M9 5h0M17 5h1M22 5h1M30 5h0M10 4h0M24 4h0M29 4h0M58 4h1"/><path class="d2" d="M71 84h0M58 81h0M70 81h0M44 80h0M56 78h0M44 74h0M48 74h0M51 74h0M53 74h0M50 72h0M36 71h0M47 70h0M49 70h0M57 66h0M11 60h0M52 60h0M70 59h0M51 57h0M54 57h0M56 57h0M63 57h0M14 56h0M16 54h0M39 54h0M15 52h0M32 52h0M55 52h0M61 52h0M50 51h0M58 51h0M44 50h0M40 49h0M49 49h0M43 48h0M56 48h0M37 47h0M45 47h0M50 47h0M59 47h0M52 46h0M18 45h0M37 45h0M41 44h0M48 43h0M30 41h0M41 41h0M51 40h0M38 39h0M47 39h0M49 37h0M53 36h0M42 35h0M45 35h0M49 34h0M38 27h0M40 24h0M42 22h0M40 21h0M37 20h0M56 20h0M40 18h0M54 18h0M68 17h0M51 16h0M32 6h0M61 6h0M34 5h0M51 2h0"/></g>
<rect class="fr" x="226.9" y="224.5" width="112" height="87"/>
<path class="q" d="M266.5 224.5V311.5M226.9 281.1H338.9"/>
<path class="tM" d="M226.9 311.5v5.2M226.9 311.5h-5.2M254.9 311.5v5.2M226.9 289.8h-5.2M282.9 311.5v5.2M226.9 268h-5.2M310.9 311.5v5.2M226.9 246.2h-5.2M338.9 311.5v5.2M226.9 224.5h-5.2"/><path class="tm" d="M235.3 311.5v2.9M226.9 305h-2.9M240.3 311.5v2.9M226.9 301.1h-2.9M243.8 311.5v2.9M226.9 298.4h-2.9M246.5 311.5v2.9M226.9 296.3h-2.9M248.7 311.5v2.9M226.9 294.6h-2.9M250.6 311.5v2.9M226.9 293.1h-2.9M252.2 311.5v2.9M226.9 291.9h-2.9M253.6 311.5v2.9M226.9 290.7h-2.9M263.3 311.5v2.9M226.9 283.2h-2.9M268.3 311.5v2.9M226.9 279.4h-2.9M271.8 311.5v2.9M226.9 276.7h-2.9M274.5 311.5v2.9M226.9 274.5h-2.9M276.7 311.5v2.9M226.9 272.8h-2.9M278.6 311.5v2.9M226.9 271.4h-2.9M280.2 311.5v2.9M226.9 270.1h-2.9M281.6 311.5v2.9M226.9 269h-2.9M291.3 311.5v2.9M226.9 261.5h-2.9M296.3 311.5v2.9M226.9 257.6h-2.9M299.8 311.5v2.9M226.9 254.9h-2.9M302.5 311.5v2.9M226.9 252.8h-2.9M304.7 311.5v2.9M226.9 251.1h-2.9M306.6 311.5v2.9M226.9 249.6h-2.9M308.2 311.5v2.9M226.9 248.4h-2.9M309.6 311.5v2.9M226.9 247.2h-2.9M319.3 311.5v2.9M226.9 239.7h-2.9M324.3 311.5v2.9M226.9 235.9h-2.9M327.8 311.5v2.9M226.9 233.2h-2.9M330.5 311.5v2.9M226.9 231h-2.9M332.7 311.5v2.9M226.9 229.3h-2.9M334.6 311.5v2.9M226.9 227.9h-2.9M336.2 311.5v2.9M226.9 226.6h-2.9M337.6 311.5v2.9M226.9 225.5h-2.9"/>
<text class="tk" x="220.1" y="328.4">10<tspan class="sp" dx="0.8" dy="-5.8">0</tspan></text>
<text class="tk" transform="translate(218.4 311.5) rotate(-90)" x="-6.9" y="0">10<tspan class="sp" dx="1.2" dy="-5.8">0</tspan></text>
<text class="tk" x="247.6" y="328.4">10<tspan class="sp" dx="0.8" dy="-5.8">1</tspan></text>
<text class="tk" transform="translate(218.4 289.8) rotate(-90)" x="-7.4" y="0">10<tspan class="sp" dx="1.2" dy="-5.8">1</tspan></text>
<text class="tk" x="275.1" y="328.4">10<tspan class="sp" dx="0.8" dy="-5.8">2</tspan></text>
<text class="tk" transform="translate(218.4 268) rotate(-90)" x="-7.8" y="0">10<tspan class="sp" dx="1.2" dy="-5.8">2</tspan></text>
<text class="tk" x="302.6" y="328.4">10<tspan class="sp" dx="0.8" dy="-5.8">3</tspan></text>
<text class="tk" transform="translate(218.4 246.2) rotate(-90)" x="-8.2" y="0">10<tspan class="sp" dx="1.2" dy="-5.8">3</tspan></text>
<text class="tk" x="330.1" y="328.4">10<tspan class="sp" dx="0.8" dy="-5.8"></tspan></text>
<text class="tk" transform="translate(218.4 224.5) rotate(-90)" x="-8.7" y="0">10<tspan class="sp" dx="1.2" dy="-5.8">4</tspan></text>
<text class="ax" text-anchor="middle" x="281.9" y="338.4">pe-cd61</text>
<text class="ax" text-anchor="middle" transform="translate(205.6 267.3) rotate(-90)">f-2b3a</text>
</g>
<g id="pC2">
<g transform="translate(380.4 227.3) scale(1.0009 1.0034) translate(0.5 0.5)"><path class="d" d="M0 86h32M34 86h55M0 85h32M34 85h52M88 85h0M0 84h34M36 84h3M41 84h48M0 83h32M34 83h0M37 83h48M87 83h0M89 83h1M0 82h87M0 81h34M36 81h52M0 80h33M35 80h0M37 80h0M39 80h49M0 79h0M2 79h0M5 79h0M7 79h0M10 79h0M12 79h7M21 79h1M24 79h2M28 79h0M30 79h2M34 79h1M37 79h50M0 78h9M11 78h9M23 78h2M27 78h0M29 78h2M33 78h2M39 78h49M0 77h0M2 77h2M6 77h2M11 77h0M16 77h0M19 77h0M22 77h2M28 77h0M30 77h1M34 77h0M36 77h1M39 77h49M1 76h0M6 76h0M9 76h0M14 76h0M16 76h1M19 76h0M21 76h0M28 76h0M30 76h0M35 76h0M37 76h1M42 76h1M47 76h0M49 76h0M51 76h0M54 76h3M59 76h0M61 76h1M65 76h1M69 76h4M76 76h0M79 76h4M85 76h0M1 75h1M6 75h2M13 75h1M20 75h0M22 75h0M25 75h0M27 75h0M29 75h3M34 75h0M36 75h5M43 75h0M45 75h0M47 75h0M49 75h0M51 75h0M53 75h0M56 75h2M60 75h2M64 75h0M69 75h3M74 75h1M77 75h3M82 75h2M86 75h0M108 75h1M0 74h0M7 74h2M14 74h1M25 74h0M27 74h1M30 74h0M32 74h1M35 74h1M39 74h0M41 74h0M43 74h1M46 74h1M51 74h2M59 74h0M62 74h0M65 74h0M67 74h2M71 74h2M75 74h4M82 74h2M87 74h0M36 73h1M40 73h2M44 73h0M46 73h1M51 73h0M53 73h1M59 73h5M68 73h1M72 73h0M76 73h1M81 73h1M84 73h0M86 73h0M39 72h0M41 72h0M45 72h0M47 72h1M51 72h0M53 72h0M56 72h3M61 72h0M63 72h0M67 72h1M74 72h1M80 72h0M82 72h1M87 72h0M43 71h0M47 71h0M52 71h2M57 71h0M62 71h0M66 71h2M74 71h1M79 71h0M39 70h0M42 70h0M44 70h0M52 70h0M54 70h2M73 70h0M79 70h1M13 69h0M38 69h0M41 69h0M57 69h0M14 68h0M41 68h0M58 68h0M40 67h0M28 65h1M80 56h1M46 39h1M9 36h1"/><path class="d2" d="M92 80h0M11 74h0M31 72h0M77 71h0M24 70h0M59 70h0M83 70h0M27 69h0M48 69h0M50 69h0M77 69h0M52 67h0M56 67h0M15 66h0M61 66h0M7 65h0M46 65h0M69 65h0M73 65h0M76 63h0M33 62h0M65 61h0M87 54h0M49 43h0M70 42h0M1 39h0M60 15h0"/></g>
<rect class="fr" x="380.4" y="227.3" width="113.1" height="87.3"/>
<path class="q" d="M418.4 227.3V314.6M380.4 284.2H493.5"/>
<path class="tM" d="M380.4 314.6v5.2M380.4 314.6h-5.2M408.7 314.6v5.2M380.4 292.8h-5.2M436.9 314.6v5.2M380.4 271h-5.2M465.2 314.6v5.2M380.4 249.1h-5.2M493.5 314.6v5.2M380.4 227.3h-5.2"/><path class="tm" d="M388.9 314.6v2.9M380.4 308h-2.9M393.9 314.6v2.9M380.4 304.2h-2.9M397.4 314.6v2.9M380.4 301.5h-2.9M400.2 314.6v2.9M380.4 299.3h-2.9M402.4 314.6v2.9M380.4 297.6h-2.9M404.3 314.6v2.9M380.4 296.2h-2.9M405.9 314.6v2.9M380.4 294.9h-2.9M407.4 314.6v2.9M380.4 293.8h-2.9M417.2 314.6v2.9M380.4 286.2h-2.9M422.2 314.6v2.9M380.4 282.4h-2.9M425.7 314.6v2.9M380.4 279.6h-2.9M428.4 314.6v2.9M380.4 277.5h-2.9M430.7 314.6v2.9M380.4 275.8h-2.9M432.6 314.6v2.9M380.4 274.3h-2.9M434.2 314.6v2.9M380.4 273.1h-2.9M435.7 314.6v2.9M380.4 271.9h-2.9M445.5 314.6v2.9M380.4 264.4h-2.9M450.4 314.6v2.9M380.4 260.5h-2.9M454 314.6v2.9M380.4 257.8h-2.9M456.7 314.6v2.9M380.4 255.7h-2.9M459 314.6v2.9M380.4 254h-2.9M460.8 314.6v2.9M380.4 252.5h-2.9M462.5 314.6v2.9M380.4 251.2h-2.9M463.9 314.6v2.9M380.4 250.1h-2.9M473.7 314.6v2.9M380.4 242.6h-2.9M478.7 314.6v2.9M380.4 238.7h-2.9M482.2 314.6v2.9M380.4 236h-2.9M485 314.6v2.9M380.4 233.9h-2.9M487.2 314.6v2.9M380.4 232.1h-2.9M489.1 314.6v2.9M380.4 230.7h-2.9M490.8 314.6v2.9M380.4 229.4h-2.9M492.2 314.6v2.9M380.4 228.3h-2.9"/>
<text class="tk" x="373.6" y="331.5">10<tspan class="sp" dx="0.8" dy="-5.8">0</tspan></text>
<text class="tk" transform="translate(371.9 314.6) rotate(-90)" x="-6.9" y="0">10<tspan class="sp" dx="1.2" dy="-5.8">0</tspan></text>
<text class="tk" x="401.4" y="331.5">10<tspan class="sp" dx="0.8" dy="-5.8">1</tspan></text>
<text class="tk" transform="translate(371.9 292.8) rotate(-90)" x="-7.4" y="0">10<tspan class="sp" dx="1.2" dy="-5.8">1</tspan></text>
<text class="tk" x="429.1" y="331.5">10<tspan class="sp" dx="0.8" dy="-5.8">2</tspan></text>
<text class="tk" transform="translate(371.9 271) rotate(-90)" x="-7.8" y="0">10<tspan class="sp" dx="1.2" dy="-5.8">2</tspan></text>
<text class="tk" x="456.9" y="331.5">10<tspan class="sp" dx="0.8" dy="-5.8">3</tspan></text>
<text class="tk" transform="translate(371.9 249.1) rotate(-90)" x="-8.2" y="0">10<tspan class="sp" dx="1.2" dy="-5.8">3</tspan></text>
<text class="tk" x="484.7" y="331.5">10<tspan class="sp" dx="0.8" dy="-5.8">4</tspan></text>
<text class="tk" transform="translate(371.9 227.3) rotate(-90)" x="-8.7" y="0">10<tspan class="sp" dx="1.2" dy="-5.8">4</tspan></text>
<text class="ax" text-anchor="middle" x="435.9" y="341.5">pe-cd61</text>
<text class="ax" text-anchor="middle" transform="translate(359.1 270.3) rotate(-90)">f-2b3a</text>
</g>
<g id="pA3">
<g transform="translate(66.9 364.2) scale(0.9982 1.0023) translate(0.5 0.5)"><path class="d" d="M0 85h37M39 85h7M48 85h15M65 85h38M105 85h3M110 85h2M0 84h30M32 84h3M37 84h66M105 84h7M0 83h48M51 83h4M58 83h14M74 83h16M92 83h12M106 83h1M109 83h3M0 82h28M30 82h8M40 82h4M46 82h6M54 82h18M74 82h38M0 81h35M37 81h1M41 81h14M57 81h47M106 81h3M112 81h0M0 80h35M37 80h4M43 80h2M47 80h9M58 80h6M66 80h38M107 80h0M109 80h3M0 79h52M54 79h47M103 79h0M105 79h7M0 78h46M48 78h1M51 78h2M55 78h1M58 78h2M62 78h0M64 78h38M104 78h1M108 78h4M0 77h26M28 77h1M31 77h4M37 77h3M42 77h8M54 77h1M57 77h2M61 77h21M85 77h10M97 77h5M104 77h0M106 77h0M108 77h3M0 76h31M33 76h16M51 76h51M105 76h5M112 76h0M0 75h35M37 75h1M40 75h1M43 75h1M46 75h16M64 75h8M74 75h4M80 75h27M109 75h1M112 75h0M0 74h26M29 74h9M40 74h26M68 74h12M82 74h23M108 74h4M0 73h45M47 73h4M53 73h3M58 73h9M69 73h34M106 73h1M109 73h1M112 73h0M0 72h26M29 72h3M34 72h1M37 72h3M42 72h0M44 72h2M48 72h1M51 72h41M94 72h5M101 72h1M104 72h8M0 71h23M25 71h4M31 71h1M34 71h15M52 71h47M101 71h4M107 71h5M0 70h43M45 70h11M58 70h16M76 70h12M90 70h14M106 70h0M108 70h4M0 69h30M32 69h6M40 69h3M46 69h8M56 69h29M87 69h18M107 69h0M109 69h3M0 68h26M28 68h1M31 68h3M36 68h76M0 67h26M28 67h2M32 67h9M43 67h1M46 67h5M53 67h21M76 67h36M0 66h33M37 66h0M39 66h1M42 66h10M54 66h12M68 66h44M0 65h22M24 65h21M47 65h1M50 65h23M75 65h37M0 64h37M39 64h5M46 64h3M51 64h4M57 64h32M91 64h19M112 64h0M0 63h27M29 63h2M33 63h1M36 63h0M40 63h0M43 63h1M46 63h0M48 63h0M50 63h0M53 63h1M56 63h2M60 63h0M62 63h0M67 63h10M79 63h0M83 63h2M87 63h4M94 63h2M99 63h1M103 63h1M106 63h1M109 63h0M111 63h1M0 62h26M29 62h1M33 62h5M44 62h1M47 62h0M49 62h1M52 62h4M60 62h1M63 62h1M66 62h0M69 62h6M77 62h0M79 62h3M85 62h0M88 62h2M92 62h4M100 62h0M102 62h10M0 61h27M29 61h0M31 61h0M33 61h3M38 61h0M40 61h3M45 61h0M47 61h0M50 61h1M53 61h1M56 61h1M59 61h4M65 61h0M67 61h2M71 61h1M75 61h7M84 61h0M87 61h1M90 61h2M94 61h3M101 61h3M106 61h6M0 60h24M26 60h1M31 60h0M33 60h0M35 60h0M40 60h3M45 60h2M49 60h1M52 60h0M54 60h2M58 60h1M61 60h1M64 60h0M66 60h0M68 60h3M73 60h1M76 60h0M80 60h2M87 60h1M91 60h1M94 60h3M99 60h1M102 60h0M107 60h5M0 59h30M32 59h0M36 59h0M38 59h1M41 59h0M43 59h0M46 59h6M56 59h6M65 59h1M68 59h2M73 59h0M75 59h3M81 59h0M83 59h1M86 59h1M89 59h0M93 59h2M99 59h2M103 59h0M105 59h1M108 59h4M0 58h28M32 58h1M35 58h0M37 58h5M44 58h2M50 58h0M52 58h0M55 58h0M57 58h0M60 58h1M63 58h3M69 58h0M73 58h1M76 58h0M79 58h3M84 58h2M91 58h1M94 58h1M97 58h1M100 58h1M103 58h1M109 58h3M0 57h6M8 57h17M27 57h2M32 57h3M38 57h4M45 57h0M48 57h2M54 57h3M59 57h0M61 57h2M65 57h0M67 57h1M71 57h1M79 57h0M83 57h0M85 57h0M87 57h5M94 57h0M97 57h0M99 57h0M102 57h0M104 57h1M109 57h3M1 56h18M21 56h8M37 56h0M45 56h0M82 56h0M84 56h0M109 56h3M0 55h1M3 55h0M5 55h0M8 55h6M16 55h9M27 55h0M109 55h3M2 54h2M8 54h1M11 54h4M17 54h4M23 54h1M26 54h0M28 54h0M110 54h2M2 53h0M4 53h3M9 53h0M14 53h2M19 53h1M22 53h0M27 53h0M29 53h0M110 53h2M0 52h3M6 52h0M11 52h0M13 52h0M17 52h0M20 52h1M110 52h2M1 51h0M11 51h3M19 51h1M73 51h1M110 51h2M0 50h0M6 50h2M10 50h3M19 50h2M111 50h1M1 49h0M10 49h1M18 49h0M62 49h1M110 49h2M87 48h1M111 48h1M19 47h1M111 47h1M7 46h0M111 46h1M7 45h0M67 45h1M112 45h0M112 44h0M111 43h1M111 42h1M12 41h0M111 41h1M10 40h1M111 40h1M2 39h0M76 39h1M111 39h1M3 38h0M112 38h0M0 37h1M112 37h0M0 36h0M11 36h0M48 36h1M112 36h0M2 35h0M5 35h2M12 35h2M112 35h0M3 34h0M10 34h1M112 34h0M0 33h0M4 33h2M9 33h1M56 33h1M112 33h0M0 32h2M5 32h2M9 32h5M42 32h1M112 32h0M0 31h1M3 31h0M7 31h0M12 31h2M19 31h0M112 31h0M0 30h0M2 30h0M6 30h0M8 30h0M11 30h0M15 30h2M19 30h1M112 30h0M0 29h0M2 29h1M9 29h0M12 29h0M14 29h2M19 29h5M31 29h0M112 29h0M0 28h0M3 28h0M6 28h2M11 28h6M19 28h1M30 28h0M112 28h0M0 27h0M8 27h0M10 27h0M14 27h2M18 27h0M20 27h0M24 27h0M112 27h0M0 26h0M9 26h0M20 26h2M24 26h0M0 25h0M5 25h1M10 25h0M5 24h0M20 24h0M29 24h1M21 23h0M0 22h0M46 22h1M0 21h0M50 21h1"/><path class="d2" d="M107 57h0M35 55h0M57 55h0M63 55h0M88 55h0M90 55h0M107 55h0M44 54h0M60 53h0M53 52h0M96 52h0M26 51h0M23 50h0M16 49h0M25 49h0M28 49h0M3 46h0M0 45h0M23 45h0M18 44h0M30 44h0M4 43h0M23 43h0M9 42h0M18 42h0M48 41h0M0 40h0M23 39h0M10 38h0M13 37h0M58 37h0M74 36h0M60 33h0M21 32h0M23 32h0M94 32h0M29 30h0M3 26h0M40 25h0M112 25h0M23 24h0M7 23h0M10 23h0M15 23h0M112 23h0M25 22h0M30 22h0"/></g>
<rect class="fr" x="66.9" y="364.2" width="112.8" height="86.2"/>
<path class="q" d="M106.2 364.2V450.4M66.9 420.4H179.7"/>
<path class="tM" d="M66.9 450.4v5.2M66.9 450.4h-5.2M95.1 450.4v5.2M66.9 428.8h-5.2M123.3 450.4v5.2M66.9 407.3h-5.2M151.5 450.4v5.2M66.9 385.8h-5.2M179.7 450.4v5.2M66.9 364.2h-5.2"/><path class="tm" d="M75.4 450.4v2.9M66.9 443.9h-2.9M80.4 450.4v2.9M66.9 440.1h-2.9M83.9 450.4v2.9M66.9 437.4h-2.9M86.6 450.4v2.9M66.9 435.3h-2.9M88.8 450.4v2.9M66.9 433.6h-2.9M90.7 450.4v2.9M66.9 432.2h-2.9M92.4 450.4v2.9M66.9 430.9h-2.9M93.8 450.4v2.9M66.9 429.8h-2.9M103.6 450.4v2.9M66.9 422.4h-2.9M108.6 450.4v2.9M66.9 418.6h-2.9M112.1 450.4v2.9M66.9 415.9h-2.9M114.8 450.4v2.9M66.9 413.8h-2.9M117 450.4v2.9M66.9 412.1h-2.9M118.9 450.4v2.9M66.9 410.6h-2.9M120.6 450.4v2.9M66.9 409.4h-2.9M122 450.4v2.9M66.9 408.3h-2.9M131.8 450.4v2.9M66.9 400.8h-2.9M136.8 450.4v2.9M66.9 397h-2.9M140.3 450.4v2.9M66.9 394.3h-2.9M143 450.4v2.9M66.9 392.2h-2.9M145.2 450.4v2.9M66.9 390.5h-2.9M147.1 450.4v2.9M66.9 389.1h-2.9M148.8 450.4v2.9M66.9 387.8h-2.9M150.2 450.4v2.9M66.9 386.7h-2.9M160 450.4v2.9M66.9 379.3h-2.9M165 450.4v2.9M66.9 375.5h-2.9M168.5 450.4v2.9M66.9 372.8h-2.9M171.2 450.4v2.9M66.9 370.7h-2.9M173.4 450.4v2.9M66.9 369h-2.9M175.3 450.4v2.9M66.9 367.5h-2.9M177 450.4v2.9M66.9 366.3h-2.9M178.4 450.4v2.9M66.9 365.2h-2.9"/>
<text class="tk" x="60.1" y="467.3">10<tspan class="sp" dx="0.8" dy="-5.8">0</tspan></text>
<text class="tk" transform="translate(58.4 450.4) rotate(-90)" x="-6.9" y="0">10<tspan class="sp" dx="1.2" dy="-5.8">0</tspan></text>
<text class="tk" x="87.8" y="467.3">10<tspan class="sp" dx="0.8" dy="-5.8">1</tspan></text>
<text class="tk" transform="translate(58.4 428.8) rotate(-90)" x="-7.4" y="0">10<tspan class="sp" dx="1.2" dy="-5.8">1</tspan></text>
<text class="tk" x="115.5" y="467.3">10<tspan class="sp" dx="0.8" dy="-5.8">2</tspan></text>
<text class="tk" transform="translate(58.4 407.3) rotate(-90)" x="-7.8" y="0">10<tspan class="sp" dx="1.2" dy="-5.8">2</tspan></text>
<text class="tk" x="143.2" y="467.3">10<tspan class="sp" dx="0.8" dy="-5.8">3</tspan></text>
<text class="tk" transform="translate(58.4 385.8) rotate(-90)" x="-8.2" y="0">10<tspan class="sp" dx="1.2" dy="-5.8">3</tspan></text>
<text class="tk" x="170.9" y="467.3">10<tspan class="sp" dx="0.8" dy="-5.8">4</tspan></text>
<text class="tk" transform="translate(58.4 364.2) rotate(-90)" x="-8.7" y="0">10<tspan class="sp" dx="1.2" dy="-5.8">4</tspan></text>
<text class="ax" text-anchor="middle" x="122.3" y="477.3">pe-cd61</text>
<text class="ax" text-anchor="middle" transform="translate(45.6 408.3) rotate(-90)">f-1b</text>
</g>
<g id="pB3">
<g transform="translate(226.9 362.6) scale(0.9982 1.0000) translate(0.5 0.5)"><path class="d" d="M0 86h19M22 86h0M0 85h21M0 84h20M43 84h1M0 83h21M50 83h1M0 82h22M33 82h0M0 81h21M34 81h0M0 80h22M64 80h1M0 79h21M0 78h21M23 78h0M0 77h21M23 77h0M0 76h22M0 75h21M24 75h0M27 75h1M0 74h21M23 74h1M0 73h22M0 72h22M0 71h21M23 71h0M36 71h1M0 70h23M31 70h1M0 69h7M9 69h14M29 69h0M0 68h1M3 68h18M24 68h0M29 68h0M0 67h6M8 67h1M12 67h8M22 67h0M0 66h11M13 66h3M18 66h4M25 66h1M0 65h5M8 65h2M12 65h5M19 65h2M24 65h0M0 64h3M5 64h0M7 64h0M9 64h4M16 64h6M0 63h2M4 63h0M6 63h0M8 63h13M31 63h1M0 62h2M4 62h1M8 62h0M10 62h1M13 62h4M19 62h2M31 62h0M2 61h0M5 61h1M8 61h1M11 61h1M15 61h4M21 61h0M28 61h0M0 60h0M2 60h2M7 60h3M12 60h12M28 60h0M0 59h8M10 59h0M12 59h10M28 59h0M0 58h2M4 58h6M12 58h10M26 58h0M29 58h3M0 57h26M30 57h2M0 56h4M6 56h19M27 56h2M35 56h0M0 55h24M27 55h1M31 55h3M0 54h26M32 54h2M38 54h0M0 53h27M29 53h0M31 53h1M34 53h1M37 53h0M0 52h26M28 52h6M36 52h1M39 52h0M0 51h26M28 51h0M30 51h1M33 51h0M35 51h0M38 51h0M40 51h0M0 50h26M28 50h1M31 50h1M34 50h0M39 50h0M41 50h0M0 49h25M27 49h6M38 49h0M0 48h27M29 48h1M33 48h0M38 48h2M0 47h26M30 47h0M36 47h0M39 47h1M0 46h25M27 46h0M29 46h1M32 46h2M37 46h0M40 46h1M43 46h0M0 45h27M29 45h0M31 45h0M35 45h1M39 45h1M42 45h1M0 44h25M27 44h1M30 44h3M35 44h0M37 44h0M40 44h0M42 44h2M46 44h1M0 43h26M28 43h2M36 43h0M38 43h0M40 43h0M42 43h4M48 43h0M0 42h26M28 42h0M30 42h3M35 42h0M39 42h0M41 42h0M43 42h5M0 41h25M27 41h0M29 41h2M33 41h3M39 41h0M42 41h5M50 41h1M0 40h29M31 40h3M39 40h0M41 40h0M43 40h6M51 40h0M67 40h1M0 39h26M28 39h1M31 39h5M40 39h2M45 39h3M51 39h3M0 38h25M27 38h1M30 38h3M35 38h1M40 38h2M45 38h8M0 37h27M29 37h5M36 37h1M39 37h0M43 37h0M48 37h2M53 37h0M0 36h29M31 36h2M35 36h3M40 36h2M49 36h0M52 36h1M0 35h30M32 35h2M36 35h0M39 35h1M52 35h2M57 35h0M0 34h25M27 34h0M29 34h2M33 34h2M37 34h0M39 34h0M48 34h1M52 34h0M54 34h0M57 34h0M0 33h29M31 33h1M38 33h1M53 33h0M0 32h25M28 32h1M31 32h4M38 32h0M40 32h1M43 32h0M52 32h0M54 32h0M56 32h0M0 31h25M27 31h1M31 31h1M34 31h0M36 31h0M40 31h0M42 31h0M56 31h2M0 30h25M27 30h2M31 30h1M40 30h1M47 30h1M58 30h1M0 29h25M27 29h0M29 29h0M35 29h0M60 29h1M0 28h32M35 28h0M0 27h27M29 27h4M36 27h0M0 26h30M32 26h0M34 26h0M36 26h0M0 25h28M30 25h0M33 25h1M36 25h1M45 25h0M0 24h25M27 24h1M30 24h1M33 24h0M36 24h1M45 24h0M0 23h26M28 23h0M1 22h7M10 22h0M15 22h2M19 22h4M25 22h2M35 22h0M38 22h0M2 21h1M7 21h1M14 21h0M16 21h1M21 21h0M24 21h2M35 21h0M38 21h0M15 20h0M19 20h0M26 20h1M18 19h0M31 18h1M32 17h0M29 13h1M33 7h1"/><path class="d2" d="M30 85h0M32 79h0M42 78h0M32 75h0M59 73h0M56 71h0M28 64h0M26 63h0M23 62h0M35 61h0M37 61h0M48 61h0M32 60h0M36 58h0M40 54h0M45 54h0M50 48h0M49 45h0M51 45h0M54 44h0M61 42h0M62 36h0M42 34h0M61 34h0M64 33h0M47 32h0M49 32h0M44 30h0M58 28h0M40 27h0M49 27h0M65 27h0M43 26h0M39 24h0M41 22h0M12 21h0M5 20h0M21 18h0M26 11h0M28 10h0M36 9h0"/></g>
<rect class="fr" x="226.9" y="362.6" width="112.8" height="87"/>
<path class="q" d="M266.2 362.6V449.6M226.9 420.1H339.7"/>
<path class="tM" d="M226.9 449.6v5.2M226.9 449.6h-5.2M255.1 449.6v5.2M226.9 427.9h-5.2M283.3 449.6v5.2M226.9 406.1h-5.2M311.5 449.6v5.2M226.9 384.4h-5.2M339.7 449.6v5.2M226.9 362.6h-5.2"/><path class="tm" d="M235.4 449.6v2.9M226.9 443.1h-2.9M240.4 449.6v2.9M226.9 439.2h-2.9M243.9 449.6v2.9M226.9 436.5h-2.9M246.6 449.6v2.9M226.9 434.4h-2.9M248.8 449.6v2.9M226.9 432.7h-2.9M250.7 449.6v2.9M226.9 431.2h-2.9M252.4 449.6v2.9M226.9 430h-2.9M253.8 449.6v2.9M226.9 428.8h-2.9M263.6 449.6v2.9M226.9 421.3h-2.9M268.6 449.6v2.9M226.9 417.5h-2.9M272.1 449.6v2.9M226.9 414.8h-2.9M274.8 449.6v2.9M226.9 412.6h-2.9M277 449.6v2.9M226.9 410.9h-2.9M278.9 449.6v2.9M226.9 409.5h-2.9M280.6 449.6v2.9M226.9 408.2h-2.9M282 449.6v2.9M226.9 407.1h-2.9M291.8 449.6v2.9M226.9 399.6h-2.9M296.8 449.6v2.9M226.9 395.7h-2.9M300.3 449.6v2.9M226.9 393h-2.9M303 449.6v2.9M226.9 390.9h-2.9M305.2 449.6v2.9M226.9 389.2h-2.9M307.1 449.6v2.9M226.9 387.7h-2.9M308.8 449.6v2.9M226.9 386.5h-2.9M310.2 449.6v2.9M226.9 385.3h-2.9M320 449.6v2.9M226.9 377.8h-2.9M325 449.6v2.9M226.9 374h-2.9M328.5 449.6v2.9M226.9 371.3h-2.9M331.2 449.6v2.9M226.9 369.1h-2.9M333.4 449.6v2.9M226.9 367.4h-2.9M335.3 449.6v2.9M226.9 366h-2.9M337 449.6v2.9M226.9 364.7h-2.9M338.4 449.6v2.9M226.9 363.6h-2.9"/>
<text class="tk" x="220.1" y="466.5">10<tspan class="sp" dx="0.8" dy="-5.8">0</tspan></text>
<text class="tk" transform="translate(218.4 449.6) rotate(-90)" x="-6.9" y="0">10<tspan class="sp" dx="1.2" dy="-5.8">0</tspan></text>
<text class="tk" x="247.8" y="466.5">10<tspan class="sp" dx="0.8" dy="-5.8">1</tspan></text>
<text class="tk" transform="translate(218.4 427.9) rotate(-90)" x="-7.4" y="0">10<tspan class="sp" dx="1.2" dy="-5.8">1</tspan></text>
<text class="tk" x="275.5" y="466.5">10<tspan class="sp" dx="0.8" dy="-5.8">2</tspan></text>
<text class="tk" transform="translate(218.4 406.1) rotate(-90)" x="-7.8" y="0">10<tspan class="sp" dx="1.2" dy="-5.8">2</tspan></text>
<text class="tk" x="303.2" y="466.5">10<tspan class="sp" dx="0.8" dy="-5.8">3</tspan></text>
<text class="tk" transform="translate(218.4 384.4) rotate(-90)" x="-8.2" y="0">10<tspan class="sp" dx="1.2" dy="-5.8">3</tspan></text>
<text class="tk" x="330.9" y="466.5">10<tspan class="sp" dx="0.8" dy="-5.8">4</tspan></text>
<text class="tk" transform="translate(218.4 362.6) rotate(-90)" x="-8.7" y="0">10<tspan class="sp" dx="1.2" dy="-5.8">4</tspan></text>
<text class="ax" text-anchor="middle" x="282.3" y="476.5">pe-cd61</text>
<text class="ax" text-anchor="middle" transform="translate(205.6 407.1) rotate(-90)">f-1b</text>
</g>
<g id="pC3">
<g transform="translate(385 363.8) scale(0.9991 1.0000) translate(0.5 0.5)"><path class="d" d="M0 86h21M24 86h6M32 86h58M0 85h15M17 85h8M27 85h3M33 85h1M38 85h49M89 85h0M91 85h0M0 84h22M24 84h0M26 84h0M28 84h0M30 84h0M32 84h58M0 83h12M14 83h11M29 83h2M34 83h1M39 83h0M42 83h48M0 82h13M15 82h0M17 82h2M21 82h0M24 82h5M31 82h0M33 82h2M38 82h50M0 81h19M23 81h0M25 81h1M28 81h1M31 81h1M34 81h0M37 81h51M90 81h0M0 80h7M9 80h9M20 80h4M26 80h0M28 80h0M31 80h7M40 80h47M89 80h1M0 79h17M19 79h5M27 79h3M32 79h2M36 79h1M40 79h48M91 79h0M0 78h16M18 78h0M20 78h0M24 78h5M31 78h6M39 78h49M0 77h15M17 77h6M25 77h0M29 77h5M36 77h52M0 76h16M19 76h0M21 76h6M29 76h4M35 76h53M0 75h9M11 75h0M13 75h0M15 75h0M19 75h1M22 75h2M27 75h3M32 75h2M39 75h48M89 75h0M1 74h0M5 74h2M9 74h8M21 74h0M25 74h0M29 74h3M34 74h0M36 74h0M39 74h46M87 74h0M1 73h1M4 73h0M7 73h0M9 73h2M13 73h1M16 73h1M19 73h0M22 73h0M24 73h0M27 73h1M30 73h5M38 73h3M43 73h5M50 73h1M55 73h10M67 73h2M71 73h3M76 73h3M81 73h4M87 73h1M0 72h0M4 72h2M8 72h0M18 72h4M26 72h0M31 72h0M35 72h7M44 72h3M50 72h1M53 72h4M59 72h6M67 72h3M72 72h2M78 72h0M80 72h0M82 72h4M88 72h0M98 72h1M1 71h0M4 71h0M6 71h5M14 71h0M16 71h1M19 71h1M26 71h0M28 71h2M32 71h0M35 71h1M39 71h11M52 71h1M55 71h0M59 71h1M62 71h0M65 71h3M70 71h5M77 71h3M82 71h0M84 71h0M86 71h0M0 70h1M4 70h0M6 70h0M8 70h0M10 70h0M12 70h0M14 70h0M16 70h1M19 70h0M21 70h0M25 70h0M27 70h4M33 70h0M36 70h0M42 70h13M60 70h1M63 70h0M69 70h4M75 70h10M87 70h1M0 69h0M2 69h0M4 69h0M6 69h0M10 69h0M15 69h1M19 69h1M25 69h1M31 69h0M34 69h0M39 69h4M46 69h2M51 69h0M53 69h2M59 69h1M62 69h2M66 69h1M70 69h3M76 69h0M81 69h0M84 69h2M4 68h0M7 68h0M17 68h1M20 68h0M31 68h0M40 68h0M46 68h1M49 68h0M52 68h3M57 68h3M63 68h0M65 68h3M70 68h2M74 68h0M79 68h1M83 68h0M20 67h0M37 67h4M47 67h0M54 67h2M58 67h0M62 67h0M67 67h0M69 67h0M72 67h1M75 67h0M77 67h0M81 67h0M38 66h0M42 66h0M44 66h1M49 66h0M51 66h0M53 66h0M57 66h1M60 66h3M69 66h0M73 66h2M78 66h1M23 65h1M44 65h0M50 65h1M53 65h0M57 65h2M62 65h1M67 65h1M74 65h0M79 65h0M61 64h0M44 63h0M43 62h0M59 53h1M86 53h1M100 36h1"/><path class="d2" d="M96 85h0M96 81h0M96 70h0M12 68h0M10 67h0M27 67h0M0 66h0M31 66h0M26 65h0M28 65h0M34 65h0M83 65h0M23 63h0M35 63h0M48 63h0M59 63h0M65 63h0M82 63h0M13 62h0M56 62h0M47 61h0M76 61h0M80 61h0M60 60h0M47 59h0M66 59h0M45 58h0M75 58h0M62 57h0M68 57h0M65 56h0M80 56h0M77 55h0M51 53h0M62 53h0M69 53h0M28 52h0M67 51h0M52 50h0M93 46h0M21 36h0"/></g>
<rect class="fr" x="385" y="363.8" width="112.9" height="87"/>
<path class="q" d="M423.5 363.8V450.8M385 420.8H497.9"/>
<path class="tM" d="M385 450.8v5.2M385 450.8h-5.2M413.2 450.8v5.2M385 429.1h-5.2M441.4 450.8v5.2M385 407.3h-5.2M469.7 450.8v5.2M385 385.6h-5.2M497.9 450.8v5.2M385 363.8h-5.2"/><path class="tm" d="M393.5 450.8v2.9M385 444.3h-2.9M398.5 450.8v2.9M385 440.4h-2.9M402 450.8v2.9M385 437.7h-2.9M404.7 450.8v2.9M385 435.6h-2.9M407 450.8v2.9M385 433.9h-2.9M408.9 450.8v2.9M385 432.4h-2.9M410.5 450.8v2.9M385 431.2h-2.9M411.9 450.8v2.9M385 430h-2.9M421.7 450.8v2.9M385 422.5h-2.9M426.7 450.8v2.9M385 418.7h-2.9M430.2 450.8v2.9M385 416h-2.9M433 450.8v2.9M385 413.8h-2.9M435.2 450.8v2.9M385 412.1h-2.9M437.1 450.8v2.9M385 410.7h-2.9M438.7 450.8v2.9M385 409.4h-2.9M440.2 450.8v2.9M385 408.3h-2.9M449.9 450.8v2.9M385 400.8h-2.9M454.9 450.8v2.9M385 396.9h-2.9M458.4 450.8v2.9M385 394.2h-2.9M461.2 450.8v2.9M385 392.1h-2.9M463.4 450.8v2.9M385 390.4h-2.9M465.3 450.8v2.9M385 388.9h-2.9M466.9 450.8v2.9M385 387.7h-2.9M468.4 450.8v2.9M385 386.5h-2.9M478.2 450.8v2.9M385 379h-2.9M483.1 450.8v2.9M385 375.2h-2.9M486.7 450.8v2.9M385 372.5h-2.9M489.4 450.8v2.9M385 370.3h-2.9M491.6 450.8v2.9M385 368.6h-2.9M493.5 450.8v2.9M385 367.2h-2.9M495.2 450.8v2.9M385 365.9h-2.9M496.6 450.8v2.9M385 364.8h-2.9"/>
<text class="tk" x="378.2" y="467.7">10<tspan class="sp" dx="0.8" dy="-5.8">0</tspan></text>
<text class="tk" transform="translate(376.5 450.8) rotate(-90)" x="-6.9" y="0">10<tspan class="sp" dx="1.2" dy="-5.8">0</tspan></text>
<text class="tk" x="405.9" y="467.7">10<tspan class="sp" dx="0.8" dy="-5.8">1</tspan></text>
<text class="tk" transform="translate(376.5 429.1) rotate(-90)" x="-7.4" y="0">10<tspan class="sp" dx="1.2" dy="-5.8">1</tspan></text>
<text class="tk" x="433.6" y="467.7">10<tspan class="sp" dx="0.8" dy="-5.8">2</tspan></text>
<text class="tk" transform="translate(376.5 407.3) rotate(-90)" x="-7.8" y="0">10<tspan class="sp" dx="1.2" dy="-5.8">2</tspan></text>
<text class="tk" x="461.4" y="467.7">10<tspan class="sp" dx="0.8" dy="-5.8">3</tspan></text>
<text class="tk" transform="translate(376.5 385.6) rotate(-90)" x="-8.2" y="0">10<tspan class="sp" dx="1.2" dy="-5.8">3</tspan></text>
<text class="tk" x="489.1" y="467.7">10<tspan class="sp" dx="0.8" dy="-5.8">4</tspan></text>
<text class="tk" transform="translate(376.5 363.8) rotate(-90)" x="-8.7" y="0">10<tspan class="sp" dx="1.2" dy="-5.8">4</tspan></text>
<text class="ax" text-anchor="middle" x="440.4" y="477.7">pe-cd61</text>
<text class="ax" text-anchor="middle" transform="translate(363.7 408.3) rotate(-90)">f-1b</text>
</g>
<path class="ar" d="M77 505.4H232.8M335 505.1H490"/>
<path d="M69.8 505.3L78.8 500.7V509.9Z" fill="#0a0a0a"/>
<path d="M497.5 505L489 500.6V509.4Z" fill="#0a0a0a"/>
<text class="ct" x="284.5" y="510.3">Mouse CD61</text>
</svg></body></html>
